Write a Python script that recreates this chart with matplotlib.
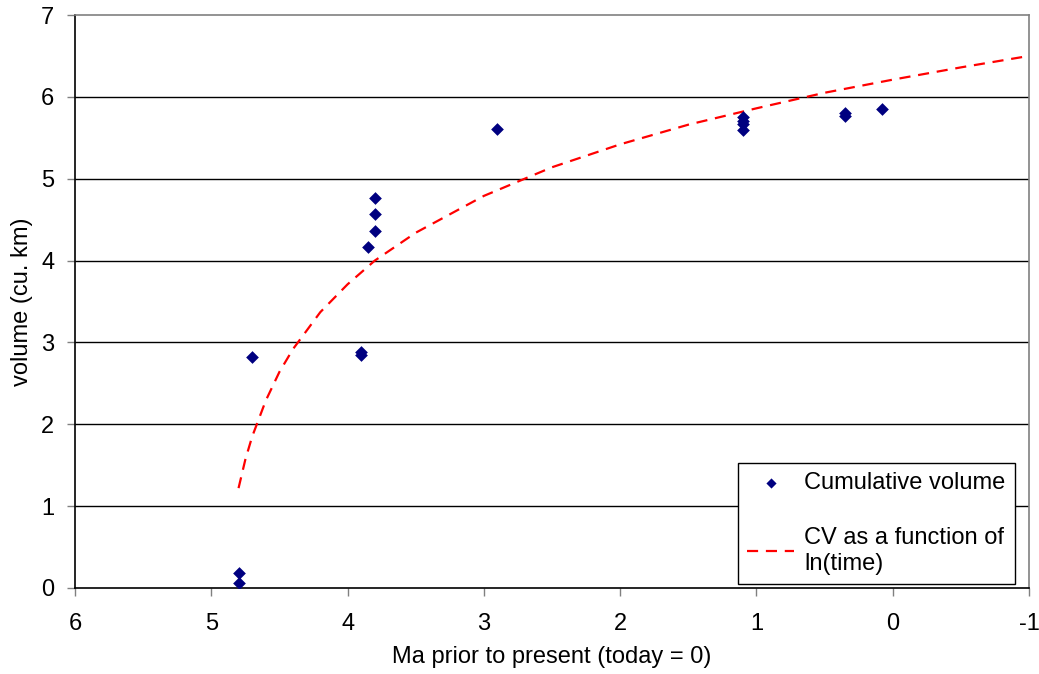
import numpy as np
import matplotlib.pyplot as plt

plt.rcParams['font.family'] = ['Liberation Sans', 'DejaVu Sans']

# measured points: Ma before present vs cumulative volume
ma_points = [4.8, 4.8, 4.7, 3.9, 3.9, 3.85, 3.8, 3.8, 3.8, 2.9,
             1.1, 1.1, 1.1, 1.1, 0.35, 0.35, 0.08]
cum_volume = [0.18, 0.06, 2.82, 2.88, 2.85, 4.17, 4.36, 4.57, 4.76, 5.61,
              5.75, 5.70, 5.67, 5.60, 5.80, 5.77, 5.85]

# trend curve
trend_ma = [4.8, 4.75, 4.7, 4.6, 4.5, 4.4, 4.2, 4.0, 3.8, 3.5, 3.0,
            2.5, 2.0, 1.5, 1.0, 0.5, 0.0, -0.5, -1.0]
trend_cv = [1.22, 1.57, 1.85, 2.29, 2.64, 2.92, 3.37, 3.71, 4.00, 4.34, 4.79,
            5.14, 5.42, 5.66, 5.86, 6.05, 6.21, 6.36, 6.50]

x_ticks = [6, 5, 4, 3, 2, 1, 0, -1]
y_ticks = [0, 1, 2, 3, 4, 5, 6, 7]

fig = plt.figure(figsize=(10.39, 6.74), dpi=100)
ax = fig.add_axes([75 / 1039, 86 / 674, 954 / 1039, 573 / 674])

for yv in y_ticks[1:-1]:
    ax.axhline(yv, color='#000000', lw=1.0, zorder=1)

ax.plot(trend_ma, trend_cv, color='#ff0000', lw=1.6, dashes=(5, 3.5),
        label='CV as a function of\nln(time)', zorder=2)
ax.scatter(ma_points, cum_volume, marker='D', s=42, color='#000080',
           linewidths=0, label='Cumulative volume', zorder=3)

ax.set_xlim(6, -1)
ax.set_ylim(0, 7)
ax.set_xticks(x_ticks)
ax.set_yticks(y_ticks)
ax.set_xticklabels([str(v) for v in x_ticks])
ax.set_yticklabels([str(v) for v in y_ticks])

ax.tick_params(axis='x', direction='out', length=6, width=1, color='#808080',
               labelsize=17, pad=12)
ax.tick_params(axis='y', direction='out', length=6, width=1, color='#808080',
               labelsize=17, pad=9)

ax.spines['left'].set_color('#000000')
ax.spines['bottom'].set_color('#000000')
ax.spines['top'].set_color('#808080')
ax.spines['right'].set_color('#808080')
for s in ax.spines.values():
    s.set_linewidth(1.2)

ax.set_xlabel('Ma prior to present (today = 0)', fontsize=17, labelpad=8)
ax.set_ylabel('volume (cu. km)', fontsize=17, labelpad=6)

handles, labels = ax.get_legend_handles_labels()
leg = ax.legend(handles[::-1], labels[::-1], loc='upper right',
                bbox_to_anchor=(1015 / 1039, 1 - 463 / 674),
                bbox_transform=fig.transFigure,
                fontsize=17, frameon=True, fancybox=False, framealpha=1,
                edgecolor='#000000', handlelength=2.0, handletextpad=0.42,
                labelspacing=1.4, borderpad=0.4, markerscale=0.8,
                borderaxespad=0)
leg.get_frame().set_linewidth(1.0)

fig.savefig('out.png', dpi=100)
